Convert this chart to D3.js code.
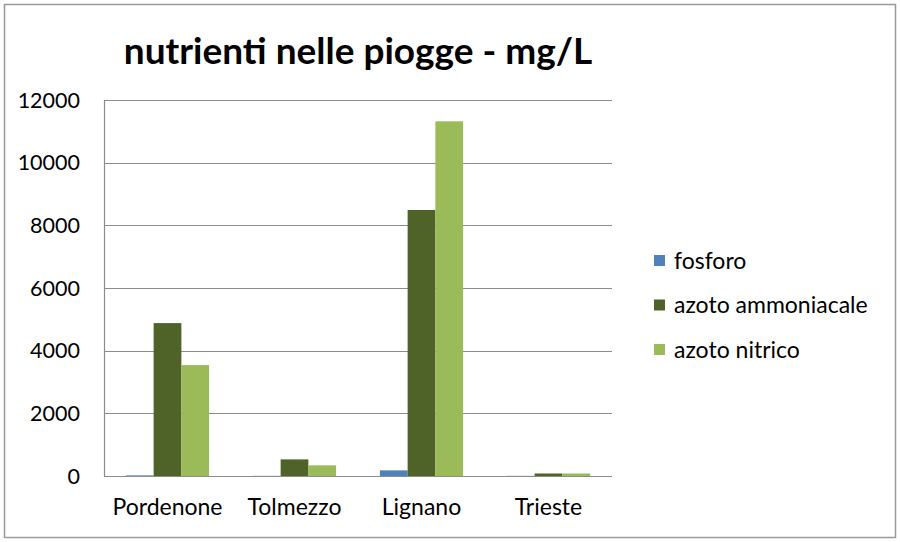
<!DOCTYPE html>
<html>
<head>
<meta charset="utf-8">
<script src="https://cdn.jsdelivr.net/npm/d3@7"></script>
<style>
  body { margin: 0; background: #fff; }
  svg { display: block; font-family: Lato, "Open Sans", sans-serif; }
</style>
</head>
<body>
<div id="chart"></div>
<script>
// values
const categories = ["Pordenone", "Tolmezzo", "Lignano", "Trieste"];
const seriesNames = ["fosforo", "azoto ammoniacale", "azoto nitrico"];
const fosforo = [20, 5, 180, 5];
const azotoAmmoniacale = [4880, 530, 8490, 80];
const azotoNitrico = [3540, 340, 11320, 80];
const yTicks = [0, 2000, 4000, 6000, 8000, 10000, 12000];
const colors = ["#4f81bd", "#4f6228", "#9bbb59"];

const seriesValues = [fosforo, azotoAmmoniacale, azotoNitrico];

const W = 900, H = 542;
const plot = { left: 104, right: 612, top: 100, bottom: 476 };

const svg = d3.select("#chart")
    .append("svg")
    .attr("width", W)
    .attr("height", H);

// outer frame
svg.append("rect")
    .attr("x", 4.5).attr("y", 4.5)
    .attr("width", 891).attr("height", 533)
    .attr("fill", "#fff")
    .attr("stroke", "#9a9a9a")
    .attr("stroke-width", 1.5);

// title
svg.append("text")
    .attr("x", 358)
    .attr("y", 64)
    .attr("text-anchor", "middle")
    .attr("font-size", 37)
    .attr("font-weight", "bold")
    .attr("fill", "#000")
    .text("nutrienti nelle piogge - mg/L");

const x0 = d3.scaleBand()
    .domain(categories)
    .range([plot.left, plot.right])
    .paddingInner(0.345)
    .paddingOuter(0.1725);

const x1 = d3.scaleBand()
    .domain(seriesNames)
    .range([0, x0.bandwidth()]);

const y = d3.scaleLinear()
    .domain([0, 12000])
    .range([plot.bottom, plot.top]);

// gridlines
svg.append("g")
    .selectAll("line")
    .data(yTicks)
    .enter()
    .append("line")
    .attr("x1", plot.left)
    .attr("x2", plot.right)
    .attr("y1", d => Math.round(y(d)) + 0.5)
    .attr("y2", d => Math.round(y(d)) + 0.5)
    .attr("stroke", "#8c8c8c")
    .attr("stroke-width", 1.2);

// y axis line
svg.append("line")
    .attr("x1", plot.left + 0.5).attr("x2", plot.left + 0.5)
    .attr("y1", plot.top).attr("y2", plot.bottom)
    .attr("stroke", "#8c8c8c")
    .attr("stroke-width", 1.2);

// y tick labels
svg.append("g")
    .selectAll("text")
    .data(yTicks)
    .enter()
    .append("text")
    .attr("x", 80)
    .attr("y", d => y(d) + 7.5)
    .attr("text-anchor", "end")
    .attr("font-size", 21.5)
    .attr("fill", "#000")
    .text(d => d);

// bars
const groups = svg.append("g")
    .selectAll("g")
    .data(categories)
    .enter()
    .append("g")
    .attr("transform", d => `translate(${x0(d)},0)`);

groups.selectAll("rect")
    .data((d, i) => seriesNames.map((s, j) => ({ s, v: seriesValues[j][i], c: colors[j] })))
    .enter()
    .append("rect")
    .attr("x", d => x1(d.s))
    .attr("width", x1.bandwidth())
    .attr("y", d => y(d.v))
    .attr("height", d => y(0) - y(d.v))
    .attr("fill", d => d.c);

// category labels
svg.append("g")
    .selectAll("text")
    .data(categories)
    .enter()
    .append("text")
    .attr("x", d => x0(d) + x0.bandwidth() / 2)
    .attr("y", 515)
    .attr("text-anchor", "middle")
    .attr("font-size", 23)
    .attr("fill", "#000")
    .text(d => d);

// legend
const legend = svg.append("g")
    .selectAll("g")
    .data(seriesNames)
    .enter()
    .append("g")
    .attr("transform", (d, i) => `translate(654,${261 + i * 44.5})`);

legend.append("rect")
    .attr("x", 0).attr("y", -6)
    .attr("width", 11).attr("height", 11)
    .attr("fill", (d, i) => colors[i]);

legend.append("text")
    .attr("x", 20)
    .attr("y", 7.5)
    .attr("font-size", 23)
    .attr("fill", "#000")
    .text(d => d);
</script>
</body>
</html>
